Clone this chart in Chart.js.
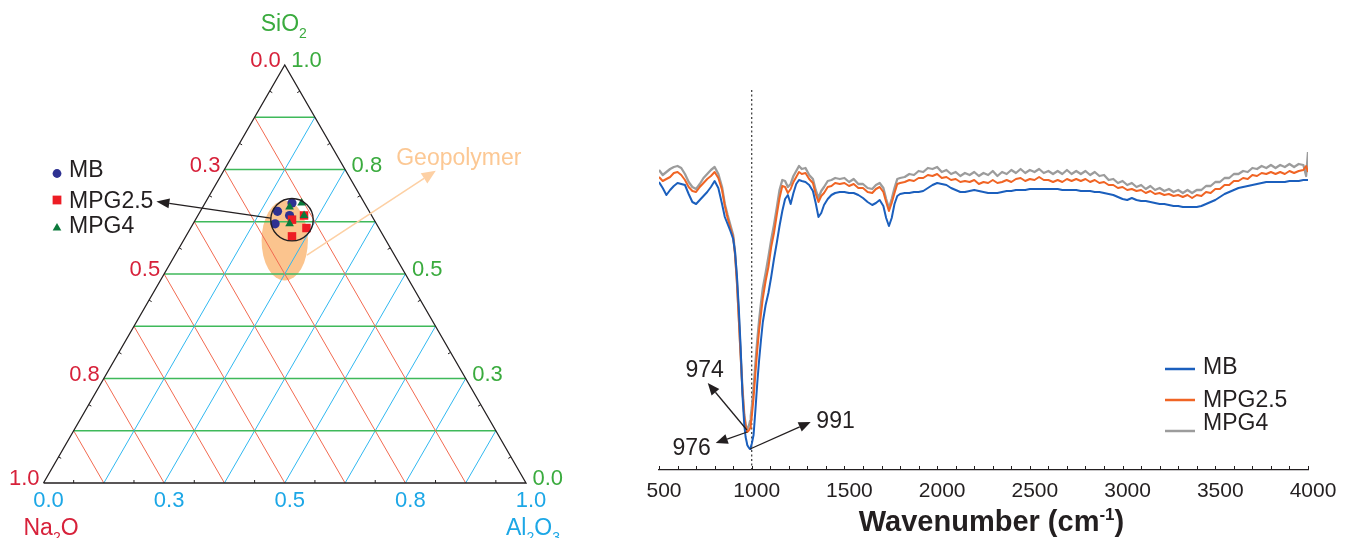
<!DOCTYPE html>
<html>
<head>
<meta charset="utf-8">
<title>Ternary composition and FTIR spectra</title>
<script src="https://cdn.jsdelivr.net/npm/chart.js@4.4.1/dist/chart.umd.min.js"></script>
<style>
  html, body { margin: 0; padding: 0; background: #fff; width: 1349px; height: 538px; overflow: hidden; }
  #tern { position: absolute; left: 0; top: 0; }
  #ftir { position: absolute; left: 600px; top: 0; }
</style>
</head>
<body>
<canvas id="tern" width="600" height="538"></canvas>
<canvas id="ftir" width="749" height="538"></canvas>
<script>
// ---------------- Ternary data: oxide fractions (Na2O, SiO2, Al2O3) ----------------
const MB_Na2O   = [0.15, 0.19, 0.21, 0.17];
const MB_SiO2   = [0.67, 0.65, 0.62, 0.64];
const MB_Al2O3  = [0.18, 0.16, 0.17, 0.19];

const MPG25_Na2O  = [0.17, 0.14, 0.15, 0.19];
const MPG25_SiO2  = [0.63, 0.64, 0.61, 0.59];
const MPG25_Al2O3 = [0.20, 0.22, 0.24, 0.22];

const MPG4_Na2O  = [0.13, 0.16, 0.14, 0.18];
const MPG4_SiO2  = [0.67, 0.66, 0.64, 0.62];
const MPG4_Al2O3 = [0.20, 0.18, 0.22, 0.20];

// grid every 1/8, labelled every 1/4 (one decimal)
const GRID_FRACTIONS = [0.125, 0.25, 0.375, 0.5, 0.625, 0.75, 0.875];
const TICK_FRACTIONS = [0, 0.25, 0.5, 0.75, 1];
const TICK_LABELS    = ['0.0', '0.3', '0.5', '0.8', '1.0'];

// ---------------- FTIR data ----------------
const WAVENUMBER = [
  500,520,540,560,580,600,620,640,660,680,700,720,740,760,780,800,820,840,
  855,870,885,900,910,920,930,940,950,960,967,974,976,982,986,991,995,1000,
  1010,1020,1030,1040,1050,1060,1075,1090,1105,1120,1135,1150,1165,1180,1195,
  1210,1225,1240,1255,1270,1290,1310,1330,1345,1360,1375,1390,1410,1430,1450,1475,
  1500,1525,1550,1575,1600,1625,1650,1670,1690,1710,1725,1740,1755,1770,1785,1800,
  1825,1850,1875,1900,1925,1950,1975,2000,
  2025,2050,2075,2100,2125,2150,2175,2200,
  2225,2250,2275,2300,2325,2350,2375,2400,
  2425,2450,2475,2500,2525,2550,2575,2600,
  2625,2650,2675,2700,2725,2750,2775,2800,
  2825,2850,2875,2900,2925,2950,2975,3000,
  3025,3050,3075,3100,3125,3150,3175,3200,
  3225,3250,3275,3300,3325,3350,3375,3400,
  3425,3450,3475,3500,3525,3550,3575,3600,
  3625,3650,3675,3700,3725,3750,3775,3800,
  3825,3850,3875,3900,3925,3950,3975,3990,4000
];

// transmittance, arbitrary units
const T_MB = [
  288,282,275,280,284,287,286,285,276,268,266,270,274,278,283,289,282,266,
  253,246,239,231,218,195,163,124,75,45,33,27,25,23,22,21,23,26,
  35,60,87,110,130,148,165,177,193,211,227,244,259,271,275,
  266,277,286,290,289,288,285,279,267,253,257,265,271,275,277,278,
  278,277,277,275,272,268,265,267,270,264,252,244,252,266,274,276,
  277,277,278,278,279,282,285,287,
  286,285,282,280,278,278,279,280,
  279,278,277,277,277,278,279,279,
  280,280,280,281,281,281,281,281,
  281,281,280,280,280,280,279,279,
  279,278,278,277,276,275,273,271,
  270,272,270,269,269,268,267,266,
  266,265,264,264,263,263,263,263,
  264,266,268,270,273,276,278,280,
  282,283,284,285,286,287,288,288,
  288,288,288,289,289,289,290,290,290
];

const T_MPG25 = [
  293,289,291,293,297,298,295,290,283,279,278,283,287,291,294,298,292,280,
  264,252,242,233,215,188,152,115,80,53,45,39,38,39,40,42,46,53,
  72,97,120,140,156,172,189,203,223,237,255,272,284,283,277,
  281,288,293,298,296,297,291,287,276,268,274,277,283,284,287,286,
  287,284,286,282,282,278,277,281,283,278,268,259,267,277,286,287,
  288,290,289,292,292,295,294,296,
  292,293,290,291,288,289,288,290,
  286,288,287,290,287,288,290,288,
  291,292,289,291,290,293,290,290,
  288,290,288,291,289,291,289,291,
  288,290,287,288,285,285,282,283,
  280,281,279,280,277,279,276,277,
  275,276,274,275,273,275,272,275,
  274,278,277,281,281,285,285,289,
  289,292,291,295,294,297,296,298,
  296,298,296,299,297,299,300,304,298
];

const T_MPG4 = [
  300,295,298,301,303,304,302,296,288,283,281,286,292,296,300,303,296,283,
  266,255,245,235,218,190,155,117,82,55,46,40,41,43,45,49,54,62,
  82,107,130,150,167,182,197,213,230,245,262,280,290,289,283,
  286,294,299,304,301,302,295,291,280,272,279,283,289,290,292,291,
  292,288,291,286,286,282,281,285,287,282,271,262,271,282,291,292,
  293,296,295,299,298,302,301,303,
  298,300,296,298,294,297,295,298,
  294,297,295,299,294,298,296,300,
  297,301,297,300,298,301,297,299,
  296,299,296,300,296,299,296,299,
  295,298,294,295,290,291,287,289,
  285,287,283,285,281,284,280,282,
  279,281,278,280,277,280,277,280,
  280,284,284,288,288,292,292,296,
  296,299,298,302,301,304,302,305,
  302,305,303,306,303,306,305,294,318
];

const X_TICK_STEP = 100;
const X_LABEL_STEP = 500;
const REF_WAVENUMBER = 1000;   // dotted guide line
const PEAKS = [                 // band minima called out on the plot
  { label: '974', series: 'MPG4',   at: 974, tip: [763, 87],  text: [746, 93] },
  { label: '976', series: 'MPG2.5', at: 976, tip: [806, 27],  text: [676, 15] },
  { label: '991', series: 'MB',     at: 991, tip: [1318, 48], text: [1452, 42] }
];

// ---------------- shared styling ----------------
const FONT = "'Liberation Sans', Arial, Helvetica, sans-serif";
const INK = '#231f20';
const H = Math.sqrt(3) / 2;

function toXY(na, si, al) {
  const s = na + si + al;
  return { x: (al + si / 2) / s, y: (si / s) * H };
}

function drawArrow(ctx, x1, y1, x2, y2, color, lw, headLen, headHalf) {
  const a = Math.atan2(y2 - y1, x2 - x1);
  const bx = x2 - Math.cos(a) * headLen, by = y2 - Math.sin(a) * headLen;
  ctx.save();
  ctx.strokeStyle = color; ctx.fillStyle = color; ctx.lineWidth = lw;
  ctx.beginPath(); ctx.moveTo(x1, y1); ctx.lineTo(bx, by); ctx.stroke();
  ctx.beginPath();
  ctx.moveTo(x2, y2);
  ctx.lineTo(bx + Math.sin(a) * headHalf, by - Math.cos(a) * headHalf);
  ctx.lineTo(bx - Math.sin(a) * headHalf, by + Math.cos(a) * headHalf);
  ctx.closePath(); ctx.fill();
  ctx.restore();
}

// parts: [text, 'sub' | 'sup' | null]; x is left edge unless align === 'center'
function drawRich(ctx, parts, x, y, size, color, bold, align) {
  const w = bold ? 'bold ' : '';
  const small = Math.round(size * 0.6);
  ctx.save();
  ctx.fillStyle = color; ctx.textBaseline = 'alphabetic'; ctx.textAlign = 'left';
  const widths = parts.map(([t, k]) => {
    ctx.font = w + (k ? small : size) + 'px ' + FONT;
    return ctx.measureText(t).width;
  });
  const total = widths.reduce((a, b) => a + b, 0);
  let cx = align === 'center' ? x - total / 2 : x;
  parts.forEach(([t, k], i) => {
    ctx.font = w + (k ? small : size) + 'px ' + FONT;
    const dy = k === 'sub' ? size * 0.3 : (k === 'sup' ? -size * 0.38 : 0);
    ctx.fillText(t, cx, y + dy);
    cx += widths[i];
  });
  ctx.restore();
  return total;
}

function drawMarker(ctx, style, x, y, r, color) {
  ctx.save();
  ctx.fillStyle = color;
  ctx.beginPath();
  if (style === 'circle') {
    ctx.arc(x, y, r, 0, Math.PI * 2);
  } else if (style === 'rect') {
    const s = r * Math.SQRT1_2;
    ctx.rect(x - s, y - s, 2 * s, 2 * s);
  } else {
    ctx.moveTo(x, y - r);
    ctx.lineTo(x + r * Math.sin(2 * Math.PI / 3), y - r * Math.cos(2 * Math.PI / 3));
    ctx.lineTo(x + r * Math.sin(4 * Math.PI / 3), y - r * Math.cos(4 * Math.PI / 3));
    ctx.closePath();
  }
  ctx.fill();
  ctx.restore();
}

// ================= Ternary diagram =================
const TERN_SERIES = [
  { name: 'MB',     na: MB_Na2O,    si: MB_SiO2,    al: MB_Al2O3,    color: '#2e3192', style: 'circle',   r: 4.6, legendR: 4.4, order: 3 },
  { name: 'MPG2.5', na: MPG25_Na2O, si: MPG25_SiO2, al: MPG25_Al2O3, color: '#ed1c24', style: 'rect',     r: 6.0, legendR: 6.2, order: 2 },
  { name: 'MPG4',   na: MPG4_Na2O,  si: MPG4_SiO2,  al: MPG4_Al2O3,  color: '#0b7a3b', style: 'triangle', r: 5.0, legendR: 5.0, order: 1 }
];

const RED_GRID = '#f26a50', GREEN_GRID = '#3fb95a', BLUE_GRID = '#30b8f0';
const RED_TXT = '#d7213a', GREEN_TXT = '#3aab3e', BLUE_TXT = '#1ca7e6';

// geopolymer field and sample cluster, in plot units
const GEO_ZONE = { na: 0.21, si: 0.58, al: 0.21, rx: 0.048, ry: 0.083 };
const CLUSTER  = { na: 0.17, si: 0.63, al: 0.20, r: 0.044 };
const GEO_ARROW = { from: [0.546, 0.472], to: [0.813, 0.647] };
const GEO_TEXT  = [0.731, 0.659];

function seg(p, q, color, width) {
  return { data: [p, q], showLine: true, borderColor: color, borderWidth: width,
           pointRadius: 0, order: 10, clip: false, fill: false };
}

const ternDatasets = [];
GRID_FRACTIONS.forEach(f => {
  ternDatasets.push(seg(toXY(f, 1 - f, 0), toXY(f, 0, 1 - f), RED_GRID, 1));      // Na2O = f
  ternDatasets.push(seg(toXY(1 - f, 0, f), toXY(0, 1 - f, f), BLUE_GRID, 1));     // Al2O3 = f
  ternDatasets.push(seg(toXY(1 - f, f, 0), toXY(0, f, 1 - f), GREEN_GRID, 1.4));  // SiO2 = f
});
ternDatasets.push({
  data: [toXY(1, 0, 0), toXY(0, 0, 1), toXY(0, 1, 0), toXY(1, 0, 0)],
  showLine: true, borderColor: INK, borderWidth: 1.3, pointRadius: 0, order: 9, clip: false, fill: false
});
TERN_SERIES.forEach(s => {
  ternDatasets.push({
    label: s.name,
    data: s.si.map((v, i) => toXY(s.na[i], v, s.al[i])),
    showLine: false, pointStyle: s.style, pointRadius: s.r,
    backgroundColor: s.color, borderColor: s.color, borderWidth: 0,
    order: s.order, clip: false
  });
});

const ternaryDecor = {
  id: 'ternaryDecor',
  beforeDatasetsDraw(chart) {
    const { ctx, scales: { x, y } } = chart;
    const c = toXY(GEO_ZONE.na, GEO_ZONE.si, GEO_ZONE.al);
    const cx = x.getPixelForValue(c.x), cy = y.getPixelForValue(c.y);
    const rx = x.getPixelForValue(c.x + GEO_ZONE.rx) - cx;
    const ry = cy - y.getPixelForValue(c.y + GEO_ZONE.ry);
    ctx.save();
    ctx.fillStyle = '#fbc48e';
    ctx.beginPath(); ctx.ellipse(cx, cy, rx, ry, 0, 0, Math.PI * 2); ctx.fill();
    ctx.restore();
  },
  afterDatasetsDraw(chart) {
    const { ctx, scales: { x, y } } = chart;
    const P = p => ({ x: x.getPixelForValue(p.x), y: y.getPixelForValue(p.y) });

    // small edge ticks between grid lines
    ctx.save();
    ctx.strokeStyle = INK; ctx.lineWidth = 1;
    for (let k = 1; k < 16; k += 2) {
      const g = k / 16;
      [[toXY(1 - g, 0, g), 0, -1], [toXY(g, 1 - g, 0), 0.866, 0.5], [toXY(0, g, 1 - g), -0.866, 0.5]]
        .forEach(([p, dx, dy]) => {
          const q = P(p);
          ctx.beginPath(); ctx.moveTo(q.x, q.y); ctx.lineTo(q.x + dx * 3, q.y + dy * 3); ctx.stroke();
        });
    }
    ctx.restore();

    // cluster outline
    const cc = P(toXY(CLUSTER.na, CLUSTER.si, CLUSTER.al));
    const cr = x.getPixelForValue(CLUSTER.r) - x.getPixelForValue(0);
    ctx.save();
    ctx.strokeStyle = INK; ctx.lineWidth = 1.4;
    ctx.beginPath(); ctx.arc(cc.x, cc.y, cr, 0, Math.PI * 2); ctx.stroke();
    ctx.restore();

    // geopolymer callout
    const g1 = P({ x: GEO_ARROW.from[0], y: GEO_ARROW.from[1] });
    const g2 = P({ x: GEO_ARROW.to[0], y: GEO_ARROW.to[1] });
    drawArrow(ctx, g1.x, g1.y, g2.x, g2.y, '#fdd0a4', 1.6, 14, 6);
    const gt = P({ x: GEO_TEXT[0], y: GEO_TEXT[1] });
    ctx.save();
    ctx.font = '23px ' + FONT; ctx.fillStyle = '#fcc894'; ctx.textBaseline = 'alphabetic';
    ctx.fillText('Geopolymer', gt.x, gt.y);
    ctx.restore();

    // tick labels on the three edges
    ctx.save();
    ctx.font = '22px ' + FONT; ctx.textBaseline = 'alphabetic';
    TICK_FRACTIONS.forEach((f, i) => {
      const l = P(toXY(f, 1 - f, 0));
      ctx.fillStyle = RED_TXT; ctx.textAlign = 'right';
      ctx.fillText(TICK_LABELS[i], l.x - 4, l.y + 2);
      const r = P(toXY(0, f, 1 - f));
      ctx.fillStyle = GREEN_TXT; ctx.textAlign = 'left';
      ctx.fillText(TICK_LABELS[i], r.x + 6.5, r.y + 2);
      const b = P(toXY(1 - f, 0, f));
      ctx.fillStyle = BLUE_TXT; ctx.textAlign = 'center';
      ctx.fillText(TICK_LABELS[i], b.x + 5, b.y + 24);
    });
    ctx.restore();

    // oxide names at the vertices
    const apex = P(toXY(0, 1, 0)), bl = P(toXY(1, 0, 0)), br = P(toXY(0, 0, 1));
    drawRich(ctx, [['SiO', null], ['2', 'sub']], apex.x - 1, 31, 23, GREEN_TXT, false, 'center');
    drawRich(ctx, [['Na', null], ['2', 'sub'], ['O', null]], bl.x - 20, br.y + 52, 23, RED_TXT, false);
    drawRich(ctx, [['Al', null], ['2', 'sub'], ['O', null], ['3', 'sub']], br.x - 20, br.y + 52, 23, BLUE_TXT, false);

    // legend
    const legendY = [168.5, 200, 225];
    let arrowTip = null;
    TERN_SERIES.forEach((s, i) => {
      const yy = legendY[i];
      drawMarker(ctx, s.style, 57, yy + (i === 0 ? 5 : (i === 2 ? 3 : 0)), s.legendR, s.color);
      ctx.save();
      ctx.font = '23px ' + FONT; ctx.fillStyle = INK; ctx.textBaseline = 'alphabetic'; ctx.textAlign = 'left';
      ctx.fillText(s.name, 69, yy + 8.2);
      if (s.name === 'MPG2.5') arrowTip = { x: 69 + ctx.measureText(s.name).width + 3, y: yy + 1.5 };
      ctx.restore();
    });
    drawArrow(ctx, cc.x - cr, cc.y - 1.5, arrowTip.x, arrowTip.y, INK, 1.4, 13, 5);
  }
};

new Chart(document.getElementById('tern'), {
  type: 'scatter',
  data: { datasets: ternDatasets },
  options: {
    responsive: false, animation: false, events: [],
    layout: { padding: { left: 43.5, right: 74, top: 65, bottom: 55 } },
    scales: {
      x: { type: 'linear', min: 0, max: 1, display: false },
      y: { type: 'linear', min: 0, max: H, display: false }
    },
    plugins: { legend: { display: false }, tooltip: { enabled: false } }
  },
  plugins: [ternaryDecor]
});

// ================= FTIR spectra =================
const FTIR_SERIES = [
  { name: 'MB',     values: T_MB,    color: '#1b5fbd', width: 2.0, order: 1 },
  { name: 'MPG2.5', values: T_MPG25, color: '#f06424', width: 2.0, order: 2 },
  { name: 'MPG4',   values: T_MPG4,  color: '#9c9c9c', width: 2.3, order: 3 }
];

const ftirDatasets = FTIR_SERIES.map(s => ({
  label: s.name,
  data: WAVENUMBER.map((w, i) => ({ x: w, y: s.values[i] })),
  borderColor: s.color, borderWidth: s.width, pointRadius: 0,
  tension: 0, fill: false, order: s.order, borderJoinStyle: 'round'
}));
ftirDatasets.push({
  label: 'guide',
  data: [{ x: REF_WAVENUMBER, y: 0 }, { x: REF_WAVENUMBER, y: 380 }],
  borderColor: '#333', borderWidth: 1.2, borderDash: [2, 2.5],
  pointRadius: 0, fill: false, order: 5
});

const ftirDecor = {
  id: 'ftirDecor',
  afterDraw(chart) {
    const { ctx, chartArea: ca, scales: { x, y } } = chart;

    // inward tick marks
    ctx.save();
    ctx.strokeStyle = INK; ctx.lineWidth = 1;
    x.ticks.forEach(t => {
      const px = Math.round(x.getPixelForValue(t.value)) + 0.5;
      ctx.beginPath(); ctx.moveTo(px, ca.bottom); ctx.lineTo(px, ca.bottom - 4); ctx.stroke();
    });
    ctx.restore();

    // axis title
    drawRich(ctx, [['Wavenumber (cm', null], ['-1', 'sup'], [')', null]],
             (ca.left + ca.right) / 2 + 8, 531, 29, INK, true, 'center');

    // band minima call-outs
    PEAKS.forEach(p => {
      const s = FTIR_SERIES.find(f => f.name === p.series);
      const idx = WAVENUMBER.indexOf(p.at);
      const x1 = x.getPixelForValue(p.at), y1 = y.getPixelForValue(s.values[idx]);
      const x2 = x.getPixelForValue(p.tip[0]), y2 = y.getPixelForValue(p.tip[1]);
      drawArrow(ctx, x1, y1, x2, y2, INK, 1.3, 12, 5);
      ctx.save();
      ctx.font = '23px ' + FONT; ctx.fillStyle = INK; ctx.textAlign = 'center'; ctx.textBaseline = 'alphabetic';
      ctx.fillText(p.label, x.getPixelForValue(p.text[0]), y.getPixelForValue(p.text[1]));
      ctx.restore();
    });

    // legend
    const rows = [{ line: 369, text: 374.3 }, { line: 400, text: 406.7 }, { line: 431, text: 430 }];
    const lx = 1165 - 600;
    FTIR_SERIES.forEach((s, i) => {
      ctx.save();
      ctx.strokeStyle = s.color; ctx.lineWidth = 2.5;
      ctx.beginPath(); ctx.moveTo(lx, rows[i].line); ctx.lineTo(lx + 30, rows[i].line); ctx.stroke();
      ctx.font = '23px ' + FONT; ctx.fillStyle = INK; ctx.textAlign = 'left'; ctx.textBaseline = 'alphabetic';
      ctx.fillText(s.name, lx + 38, rows[i].text);
      ctx.restore();
    });
  }
};

new Chart(document.getElementById('ftir'), {
  type: 'line',
  data: { datasets: ftirDatasets },
  options: {
    responsive: false, animation: false, events: [],
    layout: { padding: { left: 59, right: 41, top: 80, bottom: 0 } },
    scales: {
      x: {
        type: 'linear', min: 500, max: 4000,
        afterFit(scale) { scale.paddingLeft = 0; scale.paddingRight = 0; scale.height = 68; },
        grid: { display: false },
        border: { display: true, color: INK, width: 1.2 },
        ticks: {
          stepSize: X_TICK_STEP, autoSkip: false, maxRotation: 0, minRotation: 0,
          labelOffset: 5, padding: 1, color: INK, font: { family: FONT, size: 21 },
          callback: v => (v % X_LABEL_STEP === 0 ? String(v) : '')
        }
      },
      y: { display: false, min: 0, max: 390 }
    },
    plugins: { legend: { display: false }, tooltip: { enabled: false } }
  },
  plugins: [ftirDecor]
});
</script>
</body>
</html>
